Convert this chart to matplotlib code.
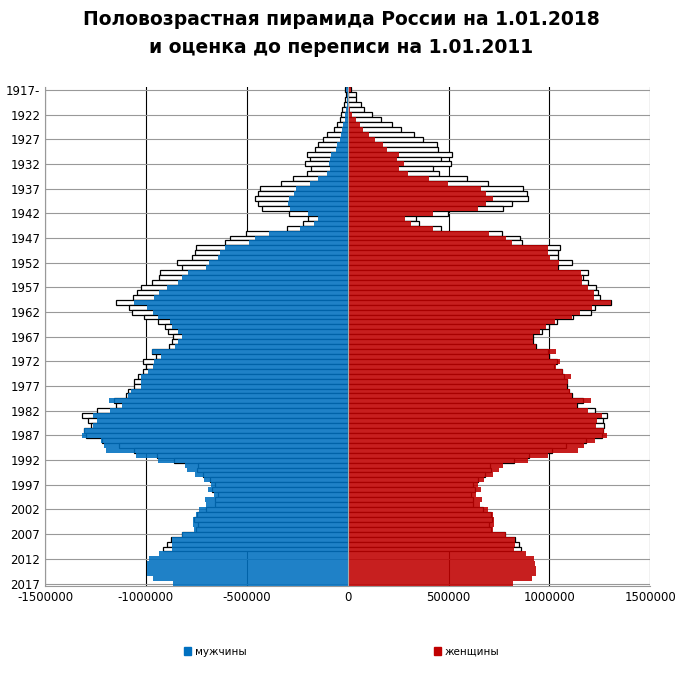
import numpy as np
import matplotlib
matplotlib.use("Agg")
import matplotlib.pyplot as plt
from matplotlib.patches import Patch

YEARS = list(range(1917, 2018))

# 1.01.2018, thousands (males shown negative)
MALE_2018 = [-8, -3, -4, -5, -8, -12, -15, -22, -26, -32, -39, -52, -56, -84, -87,
             -91, -87, -104, -149, -188, -258, -268, -292, -297, -288, -197, -145, -169, -234,
             -390, -459, -489, -606, -634, -643, -686, -701, -792, -820, -842, -894, -935,
             -959, -1061, -996, -963, -939, -883, -872, -840, -823, -842, -857, -970, -926,
             -961, -963, -991, -1026, -1026, -1026, -1076, -1089, -1182, -1121, -1177, -1262,
             -1245, -1260, -1307, -1316, -1225, -1208, -1199, -1048, -942, -805, -797, -758,
             -714, -677, -693, -662, -708, -701, -736, -753, -766, -768, -764, -823, -872,
             -872, -870, -935, -985, -994, -996, -994, -963, -866]
FEMALE_2018 = [17, 5, 6, 8, 12, 22, 39, 61, 76, 104, 134, 177, 195, 253, 245,
               279, 255, 297, 403, 498, 660, 688, 721, 684, 647, 422, 286, 316, 422,
               703, 784, 816, 991, 991, 1002, 1048, 1043, 1158, 1160, 1162, 1190, 1223,
               1223, 1307, 1212, 1154, 1110, 1028, 985, 952, 920, 920, 935, 1035, 1000,
               1052, 1035, 1067, 1108, 1091, 1087, 1104, 1110, 1206, 1136, 1190, 1262,
               1238, 1229, 1273, 1284, 1225, 1173, 1143, 991, 894, 771, 751, 721,
               677, 645, 662, 634, 667, 654, 697, 721, 727, 727, 721, 784, 829,
               831, 823, 883, 926, 931, 935, 935, 913, 818]

# estimate before the census, 1.01.2011 (cohorts up to 2010)
MALE_2011 = [-15, -8, -11, -17, -28, -32, -37, -54, -69, -102, -123, -147, -160, -203, -186,
             -212, -180, -203, -271, -331, -433, -442, -461, -446, -424, -290, -195, -221, -300,
             -502, -582, -606, -751, -758, -773, -844, -823, -929, -935, -968, -1024, -1043,
             -1063, -1147, -1082, -1069, -1009, -939, -905, -892, -866, -872, -887, -970, -952,
             -1017, -1000, -1013, -1039, -1058, -1058, -1091, -1097, -1158, -1147, -1242, -1316,
             -1288, -1273, -1307, -1299, -1216, -1134, -1058, -944, -859, -740, -745, -716,
             -682, -660, -671, -645, -658, -658, -703, -747, -762, -742, -753, -823, -874,
             -898, -913] + [np.nan] * 7
FEMALE_2011 = [17, 39, 39, 65, 80, 119, 165, 219, 266, 327, 372, 444, 450, 517, 461,
               511, 422, 455, 591, 697, 870, 887, 894, 814, 771, 498, 340, 353, 461,
               764, 855, 866, 1054, 1043, 1045, 1110, 1043, 1190, 1169, 1190, 1232, 1240,
               1251, 1307, 1227, 1206, 1117, 1037, 1000, 963, 920, 920, 935, 991, 1000,
               1039, 1022, 1061, 1071, 1087, 1087, 1095, 1110, 1165, 1139, 1225, 1288,
               1264, 1273, 1266, 1262, 1180, 1082, 1013, 898, 823, 706, 710, 680,
               645, 621, 632, 610, 623, 623, 671, 710, 714, 703, 710, 779, 829,
               848, 859] + [np.nan] * 7

BLUE = "#0070c0"
RED = "#c00000"

y = np.array(YEARS)
m18 = np.array(MALE_2018) * 1000
f18 = np.array(FEMALE_2018) * 1000
m11 = np.array(MALE_2011, dtype=float) * 1000
f11 = np.array(FEMALE_2011, dtype=float) * 1000

fig = plt.figure(figsize=(6.83, 6.83), dpi=100)
ax = fig.add_axes([0.066, 0.142, 0.886, 0.730])

# 2011 estimate: white boxes with black edge, behind
ax.barh(y, m11, height=1.0, color="white", edgecolor="black", lw=0.9, zorder=2)
ax.barh(y, f11, height=1.0, color="white", edgecolor="black", lw=0.9, zorder=2)
# 2018: filled, slightly see-through so the 2011 edges show
ax.barh(y, m18, height=1.0, color=BLUE, alpha=0.88, lw=0, zorder=3)
ax.barh(y, f18, height=1.0, color=RED, alpha=0.88, lw=0, zorder=3)

ax.set_xlim(-1500000, 1500000)
ax.set_ylim(2017.5, 1916.5)
ax.set_xticks(range(-1500000, 1500001, 500000))
ax.set_xticklabels([str(v) for v in range(-1500000, 1500001, 500000)], fontsize=8.5)
yt = list(range(1917, 2018, 5))
ax.set_yticks(yt)
ax.set_yticklabels(["1917-"] + [str(v) for v in yt[1:]], fontsize=8.5)
ax.grid(axis="x", color="black", lw=0.8, zorder=1)
ax.grid(axis="y", color="#999999", lw=0.8, zorder=1)
ax.axvline(0, color="#aaaaaa", lw=0.8, zorder=4)
for s in ["top", "right"]:
    ax.spines[s].set_visible(False)
ax.spines["left"].set_color("#999999")
ax.spines["bottom"].set_color("#999999")
ax.tick_params(length=0)

fig.suptitle("Половозрастная пирамида России на 1.01.2018\nи оценка до переписи на 1.01.2011",
             fontsize=13.5, fontweight="bold", y=0.985, linespacing=1.6)

handles = [Patch(color=BLUE, label="мужчины"), Patch(color=RED, label="женщины")]
fig.legend(handles=handles, loc="lower center", bbox_to_anchor=(0.5, 0.025), ncol=2,
           frameon=False, fontsize=7.5, handlelength=0.7, handleheight=0.7,
           columnspacing=18, handletextpad=0.3)

fig.savefig("out.png", dpi=100)
